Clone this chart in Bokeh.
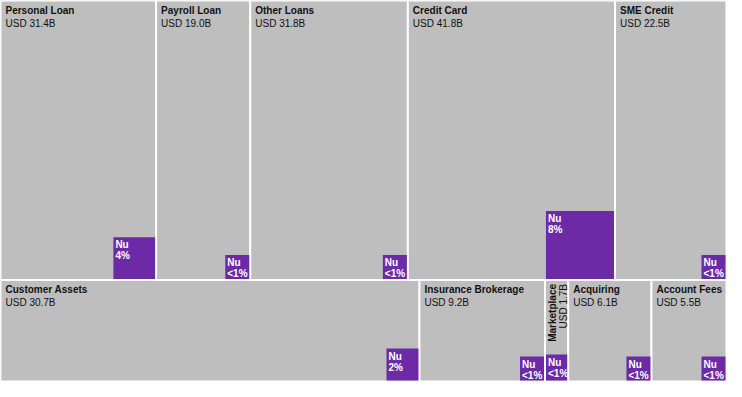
import math
from bokeh.plotting import figure
from bokeh.models import Range1d, ColumnDataSource
from bokeh.core.properties import value
from bokeh.embed import file_html
from bokeh.resources import INLINE

# ---- data ----
top_names = ["Personal Loan", "Payroll Loan", "Other Loans", "Credit Card", "SME Credit"]
top_values = [31.4, 19.0, 31.8, 41.8, 22.5]
top_nu_share = [4.0, 0.5, 0.5, 8.0, 0.5]
top_nu_labels = ["4%", "<1%", "<1%", "8%", "<1%"]

bottom_names = ["Customer Assets", "Insurance Brokerage", "Marketplace", "Acquiring", "Account Fees"]
bottom_values = [30.7, 9.2, 1.7, 6.1, 5.5]
bottom_nu_share = [2.4, 0.5, 0.5, 0.5, 0.5]
bottom_nu_labels = ["2%", "<1%", "<1%", "<1%", "<1%"]

W, H = 726, 381
GRAY = "#bebebe"
PURPLE = "#6c2aa6"
FONT = "Liberation Sans"
FS = "10px"
MIN_W, MIN_H = 24, 24

top_total = sum(top_values)
bottom_total = sum(bottom_values)
grand = top_total + bottom_total
split = H * top_total / grand

tiles = dict(left=[], right=[], top=[], bottom=[])
boxes = dict(left=[], right=[], top=[], bottom=[])
titles = dict(x=[], y=[], t=[])
vals = dict(x=[], y=[], t=[])
rtitles = dict(x=[], y=[], t=[])
rvals = dict(x=[], y=[], t=[])
nu1 = dict(x=[], y=[], t=[])
nu2 = dict(x=[], y=[], t=[])

def layout(names, values, shares, labels, y0, y1):
    total = sum(values)
    x = 0.0
    for n, v, s, lab in zip(names, values, shares, labels):
        w = W * v / total
        x0, x1 = x, x + w
        x = x1
        tiles["left"].append(x0); tiles["right"].append(x1)
        tiles["top"].append(y0); tiles["bottom"].append(y1)
        area = w * (y1 - y0)
        side = math.sqrt(area * s / 100.0)
        bw = min(max(side, MIN_W), w - 2)
        bh = max(side, MIN_H + (2 if w < 40 else 0))
        bl = x1 - 1 - bw
        bt = y1 - 1 - bh
        boxes["left"].append(bl); boxes["right"].append(x1 - 1)
        boxes["top"].append(bt); boxes["bottom"].append(y1 - 1)
        nu1["x"].append(bl + 2); nu1["y"].append(bt + 2); nu1["t"].append("Nu")
        nu2["x"].append(bl + 2); nu2["y"].append(bt + 13); nu2["t"].append(lab)
        if w < 40:
            rtitles["x"].append(x0 + 2); rtitles["y"].append(y0 + 4); rtitles["t"].append(n)
            rvals["x"].append(x0 + 13); rvals["y"].append(y0 + 4); rvals["t"].append("USD %.1fB" % v)
        else:
            titles["x"].append(x0 + 5); titles["y"].append(y0 + 4); titles["t"].append(n)
            vals["x"].append(x0 + 5); vals["y"].append(y0 + 17); vals["t"].append("USD %.1fB" % v)

layout(top_names, top_values, top_nu_share, top_nu_labels, 0.0, split)
layout(bottom_names, bottom_values, bottom_nu_share, bottom_nu_labels, split, H)

p = figure(width=W, height=H, x_range=Range1d(0, W), y_range=Range1d(H, 0),
           output_backend="svg", toolbar_location=None, min_border=0)
p.axis.visible = False
p.grid.visible = False
p.outline_line_color = None
p.background_fill_color = "white"
p.border_fill_color = "white"

p.quad(source=ColumnDataSource(tiles), left="left", right="right", top="top", bottom="bottom",
       fill_color=GRAY, line_color="white", line_width=2)
p.quad(source=ColumnDataSource(boxes), left="left", right="right", top="top", bottom="bottom",
       fill_color=PURPLE, line_color=None)

common = dict(text_font=value(FONT), text_font_size=FS, text_baseline="top", text_align="left")
p.text(x="x", y="y", text="t", source=ColumnDataSource(titles), text_font_style="bold",
       text_color="#111111", **common)
p.text(x="x", y="y", text="t", source=ColumnDataSource(vals), text_color="#111111", **common)
rot = dict(text_font=value(FONT), text_font_size=FS, text_baseline="top", text_align="right",
           angle=math.pi / 2)
p.text(x="x", y="y", text="t", source=ColumnDataSource(rtitles), text_font_style="bold",
       text_color="#111111", **rot)
p.text(x="x", y="y", text="t", source=ColumnDataSource(rvals), text_color="#111111", **rot)
p.text(x="x", y="y", text="t", source=ColumnDataSource(nu1), text_font_style="bold",
       text_color="white", **common)
p.text(x="x", y="y", text="t", source=ColumnDataSource(nu2), text_font_style="bold",
       text_color="white", **common)

open("out.html", "w").write(file_html(p, INLINE))
